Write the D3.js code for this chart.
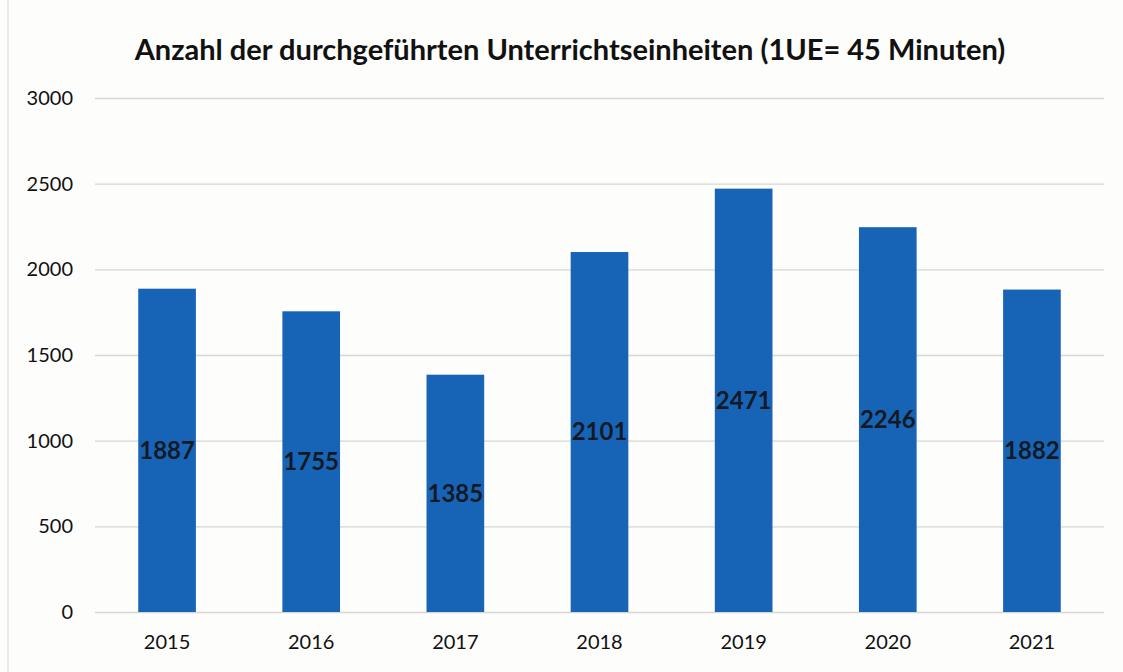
<!DOCTYPE html>
<html><head><meta charset="utf-8">
<script src="https://cdn.jsdelivr.net/npm/d3@7"></script>
<style>body{margin:0;background:#fdfdfb;} svg{display:block;}</style>
</head><body>
<svg id="c" width="1123" height="672"></svg>
<script>
const categories = ["2015","2016","2017","2018","2019","2020","2021"];
const values = [1887,1755,1385,2101,2471,2246,1882];
const yTicks = [0,500,1000,1500,2000,2500,3000];
const title = "Anzahl der durchgeführten Unterrichtseinheiten (1UE= 45 Minuten)";

const svg = d3.select("#c");
const W = 1123, H = 672;
const m = {left:95, right:19, top:98, bottom:60};
svg.append("rect").attr("width",W).attr("height",H).attr("fill","#fdfdfb");
svg.append("line").attr("x1",8).attr("x2",8).attr("y1",0).attr("y2",H).attr("stroke","#e4e4e0").attr("stroke-width",1.5);

const x = d3.scaleBand().domain(categories).range([m.left, W-m.right]).paddingInner(0.6).paddingOuter(0.3);
const y = d3.scaleLinear().domain([0,3000]).range([H-m.bottom, m.top]);

const grid = svg.append("g").attr("transform",`translate(${m.left},0)`)
  .call(d3.axisLeft(y).tickValues(yTicks).tickSize(-(W-m.right-m.left)).tickFormat(""));
grid.select(".domain").remove();
grid.selectAll("line").attr("stroke","#d6d6d2").attr("stroke-width",1.3);

const yAx = svg.append("g").attr("transform",`translate(${m.left-22},0)`)
  .call(d3.axisLeft(y).tickValues(yTicks).tickSize(0).tickPadding(0).tickFormat(d3.format("d")));
yAx.select(".domain").remove();
yAx.selectAll("text").attr("font-family","Lato, sans-serif").attr("font-size",20).attr("fill","#111");

const xAx = svg.append("g").attr("transform",`translate(0,${H-m.bottom})`)
  .call(d3.axisBottom(x).tickSize(0).tickPadding(23));
xAx.select(".domain").remove();
xAx.selectAll("text").attr("font-family","Lato, sans-serif").attr("font-size",20).attr("fill","#111");

svg.append("g").selectAll("rect").data(values).join("rect")
  .attr("x",(d,i)=>x(categories[i])).attr("width",x.bandwidth())
  .attr("y",d=>y(d)).attr("height",d=>y(0)-y(d)).attr("fill","#1764b6");

svg.append("g").selectAll("text").data(values).join("text")
  .attr("x",(d,i)=>x(categories[i])+x.bandwidth()/2)
  .attr("y",d=>(y(d)+y(0))/2).attr("dy","0.35em").attr("text-anchor","middle")
  .attr("font-family","Lato, sans-serif").attr("font-weight","bold").attr("font-size",24).attr("fill","#141a24")
  .text(d=>d);

svg.append("text").attr("x",570).attr("y",60).attr("text-anchor","middle")
  .attr("font-family","Lato, sans-serif").attr("font-weight","bold").attr("font-size",29).attr("fill","#111")
  .text(title);
</script>
</body></html>
